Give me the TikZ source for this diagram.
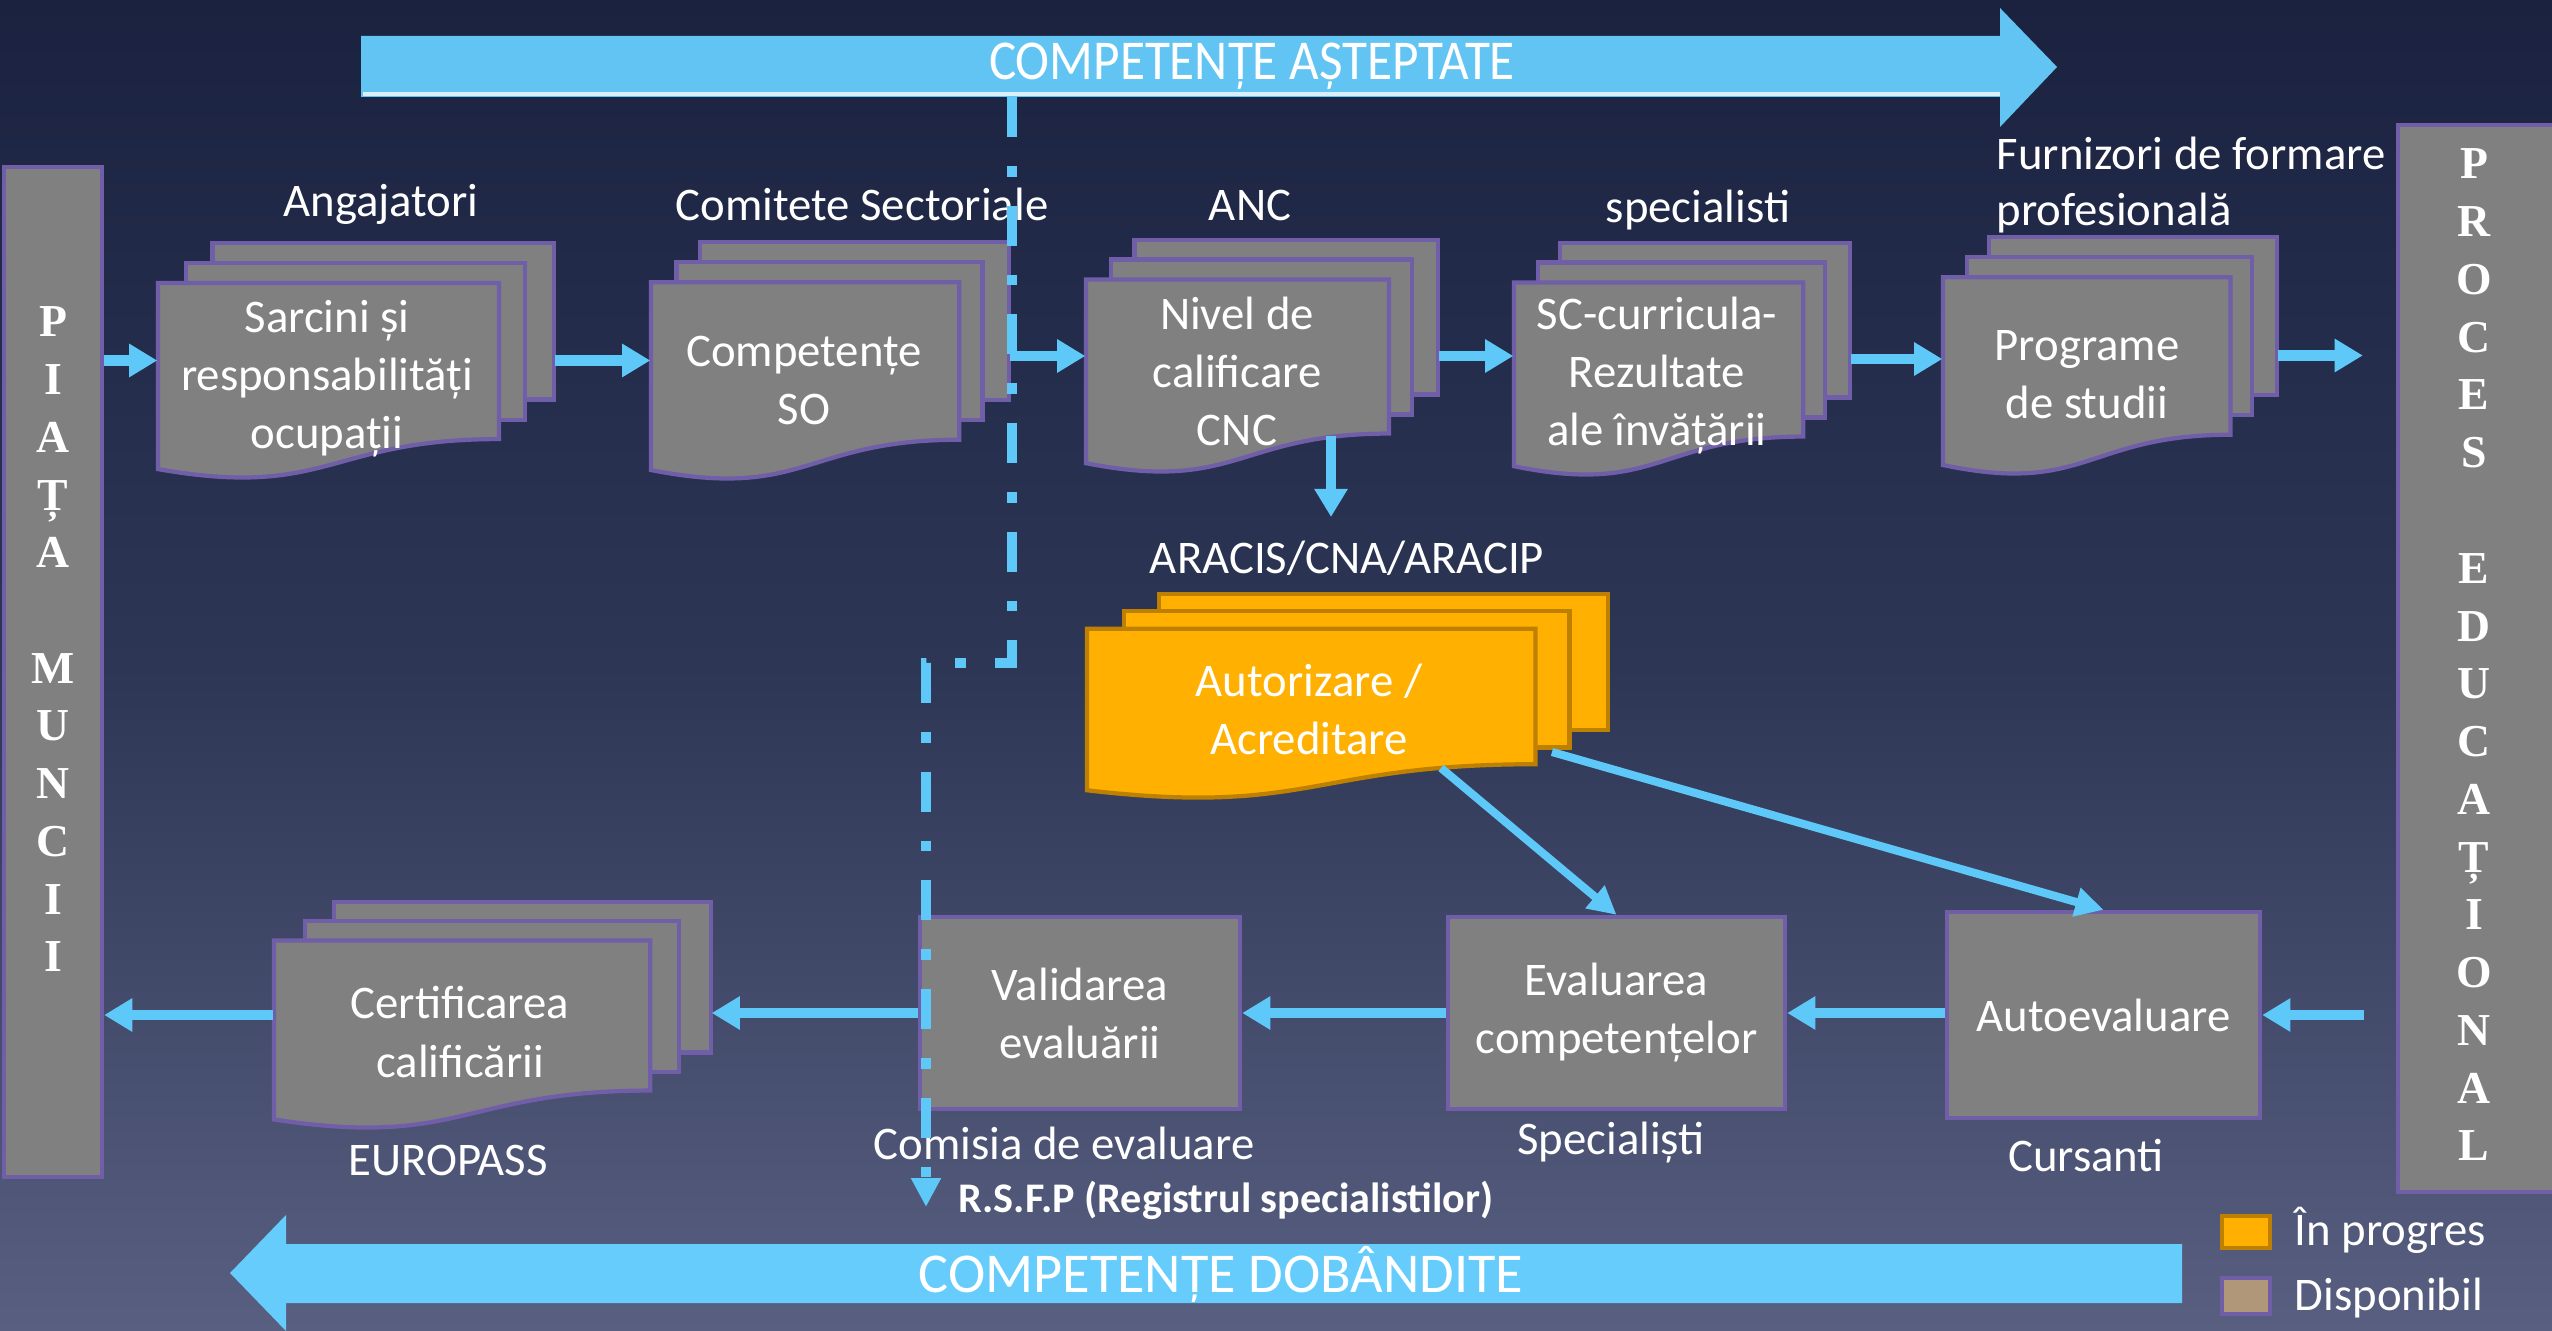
\documentclass[tikz,border=0pt]{standalone}
\usepackage{graphicx}
\usepackage{fontspec}
\setmainfont{Carlito}
\newfontfamily\barfont{Liberation Serif}
\usetikzlibrary{arrows.meta,fit}

\definecolor{bgtop}{RGB}{26,34,64}
\definecolor{bgmid}{RGB}{46,54,86}
\definecolor{bgbot}{RGB}{88,95,128}
\definecolor{arrblue}{RGB}{94,200,248}
\definecolor{bigblue}{RGB}{98,196,242}
\definecolor{bigblueb}{RGB}{102,204,252}
\definecolor{boxgrey}{RGB}{128,128,128}
\definecolor{boxline}{RGB}{112,94,168}
\definecolor{orfill}{RGB}{255,176,0}
\definecolor{orline}{RGB}{190,128,0}
\definecolor{tanfill}{RGB}{176,151,122}

\newcommand{\mdocshape}[7]{%
  \begin{scope}[shift={(#2,#3)}, xscale=#4/21.6, yscale=#5/21.6]
    \filldraw[fill=#6, draw=#7, line width=1.2pt] (2.972,0) rectangle (21.6,14.392);
    \filldraw[fill=#6, draw=#7, line width=1.2pt] (1.532,1.815) rectangle (20,16.252);
    \filldraw[fill=#6, draw=#7, line width=1.2pt] (0,3.675) -- (18.595,3.675) -- (18.595,18.022)
      .. controls (9.298,18.022) and (9.298,23.542) .. (0,20.782) -- cycle;
  \end{scope}
  \node[fit={(#2,#3) (#2+#4,#3+#5)}, inner sep=0pt] (#1) {};
}

\begin{document}
\begin{tikzpicture}[x=0.01cm, y=-0.01cm,
  txt/.style={text=white, font=\fontsize{13.3}{16.5}\selectfont, align=center, inner sep=0pt},
  gbox/.style={draw=boxline, fill=boxgrey, line width=1.2pt, text=white, align=center,
     inner sep=0pt, font=\fontsize{13.3}{16.5}\selectfont},
  arrtxt/.style={text=white, font=\fontsize{16}{16}\selectfont, inner sep=0pt},
  arr/.style={draw=arrblue, line width=3pt, -{Triangle[length=8pt,width=9pt]}},
  thinarr/.style={draw=arrblue, line width=2.3pt, -{Triangle[length=8pt,width=8pt]}},
  dashline/.style={draw=arrblue, line width=2.8pt, dash pattern=on 11.4pt off 8.2pt on 3.1pt off 8.2pt},
  barletter/.style={text=white, font=\fontsize{13}{13}\barfont\bfseries, anchor=base, inner sep=0pt}
]
\useasboundingbox (0,0) rectangle (2552,1331);
\shade[top color=bgtop, bottom color=bgbot, middle color=bgmid] (0,0) rectangle (2552,1331);

% top big arrow
\fill[bigblue] (361,36) -- (2000,36) -- (2000,8) -- (2057,67) -- (2000,127) -- (2000,97) -- (361,97) -- cycle;
\draw[white!75!bigblue, line width=1.2pt] (363,94) -- (2000,94);
\node[arrtxt] (asteptate) at (1252,66) {\scalebox{0.91}[1]{COMPETENȚE AȘTEPTATE}};

% bottom big arrow
\fill[bigblueb] (2182,1244) -- (286,1244) -- (286,1215) -- (230,1273) -- (286,1331) -- (286,1303) -- (2182,1303) -- cycle;
\node[arrtxt] (dobandite) at (1221,1275) {COMPETENȚE DOBÂNDITE};

% side bars
\node[gbox, minimum width=0.98cm, minimum height=10.1cm] (piata) at (53,672) {};
\foreach \l/\k in {P/0,I/1,A/2,Ț/3,A/4,M/6,U/7,N/8,C/9,I/10,I/11}
  \node[barletter] (pm\k) at (53,{322+\k*57.7+15}) {\l};
\node[gbox, minimum width=1.72cm, minimum height=10.67cm] (proces) at (2484,658.5) {};
\foreach \l/\k in {P/0,R/1,O/2,C/3,E/4,S/5,E/7,D/8,U/9,C/10,A/11,Ț/12,I/13,O/14,N/15,A/16,L/17}
  \node[barletter] (pe\k) at (2474,{164+\k*57.75+15}) {\l};

% multi-documents
\mdocshape{d1}{158}{243}{396}{235}{boxgrey}{boxline}
\mdocshape{d2}{651}{242}{358}{237}{boxgrey}{boxline}
\mdocshape{d3}{1086}{240}{352}{232}{boxgrey}{boxline}
\mdocshape{d4}{1514}{243}{336}{232}{boxgrey}{boxline}
\mdocshape{d5}{1943}{237}{334}{237}{boxgrey}{boxline}
\mdocshape{d6}{1087}{594}{521}{204}{orfill}{orline}
\mdocshape{d7}{274}{902}{437}{226}{boxgrey}{boxline}

\node[txt] (t1) at (327,379) {Sarcini și\\responsabilități\\ocupații};
\node[txt] (t2) at (804,380) {Competențe\\SO};
\node[txt] (t3) at (1237,371) {Nivel de\\calificare\\CNC};
\node[txt] (t4) at (1657,376) {SC-curricula-\\Rezultate\\ale învățării};
\node[txt] (t5) at (2087,375) {Programe\\de studii};
\node[txt] (t6) at (1309,709) {Autorizare /\\Acreditare};
\node[txt] (t7) at (460,1032) {Certificarea\\calificării};

% labels
\node[txt] (l1) at (381,204) {Angajatori};
\node[txt] (l2) at (862,204) {Comitete Sectoriale};
\node[txt] (l3) at (1250,205) {ANC};
\node[txt] (l4) at (1698,210) {specialisti};
\node[txt, anchor=west, align=left, font=\fontsize{13.3}{16}\selectfont] (l5) at (1996,185) {Furnizori de formare\\profesională};
\node[txt] (aracis) at (1347,558) {ARACIS/CNA/ARACIP};
\node[txt] (l7) at (448,1160) {EUROPASS};
\node[txt] (l8) at (1064,1143) {Comisia de evaluare};
\node[txt] (l9) at (1611,1143) {Specialiști};
\node[txt] (l10) at (2086,1155) {Cursanti};
\node[txt, anchor=west, font=\fontsize{12}{14}\selectfont\bfseries] (rsfp) at (958,1200) {R.S.F.P (Registrul specialistilor)};

% bottom boxes
\node[gbox, minimum width=3.2cm, minimum height=1.92cm] (valid) at (1080,1013) {Validarea\\evaluării};
\node[gbox, minimum width=3.37cm, minimum height=1.92cm] (eval) at (1616.5,1013) {Evaluarea\\competențelor};
\node[gbox, minimum width=3.13cm, minimum height=2.06cm] (auto) at (2103.5,1015) {Autoevaluare};

% legend
\node[draw=orline, fill=orfill, line width=1.2pt, minimum width=0.48cm, minimum height=0.32cm, inner sep=0pt] (legor) at (2246,1232) {};
\node[draw=boxline, fill=tanfill, line width=1.2pt, minimum width=0.48cm, minimum height=0.36cm, inner sep=0pt] (legtan) at (2246,1296) {};
\node[txt, anchor=west] (legortxt) at (2294,1230) {În progres};
\node[txt, anchor=west] (legtantxt) at (2294,1298) {Disponibil};

% top row connectors
\draw[arr] (piata.east |- d1.west) -- (d1.west);
\draw[arr] (d1.east) -- (d2.west);
\draw[arr] (d2.east |- d3.west) -- (d3.west);
\draw[arr] (d3.east) -- (d4.west |- d3.east);
\draw[arr] (d4.east) -- (d5.west |- d4.east);
\draw[arr, shorten >=0.33cm] (d5.east) -- (proces.west |- d5.east);

% ANC -> ARACIS
\coordinate (ancout) at (1331,436);
\coordinate (anctip) at (1331,517);
\draw[arr] (ancout) -- (anctip);

% autorizare arrows
\coordinate (a6out1) at (1441,768);
\coordinate (a6out2) at (1552,752);
\draw[thinarr] (a6out1) -- (eval.north);
\draw[thinarr] (a6out2) -- (auto.north);

% bottom row connectors
\draw[arr, shorten <=0.32cm] (proces.west |- auto.east) -- (auto.east);
\draw[arr] (auto.west |- eval.east) -- (eval.east);
\draw[arr] (eval.west) -- (valid.east);
\draw[arr] (valid.west) -- (d7.east |- valid.west);
\draw[arr] (d7.west) -- (piata.east |- d7.west);

% dash-dot line
\coordinate (dtop) at (1012,97);
\coordinate (dc1) at (1012,663);
\coordinate (dc2) at (926,663);
\coordinate (dend) at (926,1207);
\draw[dashline, -{Triangle[length=8.2pt,width=8pt]}] (dtop) -- (dc1) -- (dc2) -- (dend);
\end{tikzpicture}
\end{document}
